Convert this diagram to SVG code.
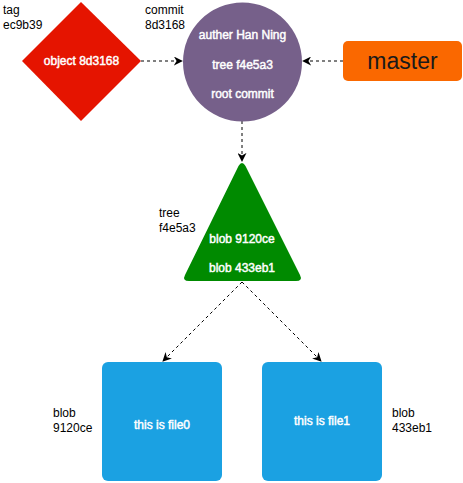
<svg xmlns="http://www.w3.org/2000/svg" width="463" height="483" viewBox="0 0 463 483">
<defs>
<marker id="ah" viewBox="0 0 10 10" refX="9" refY="5" markerWidth="9" markerHeight="9" markerUnits="userSpaceOnUse" orient="auto">
<path d="M0,0 L10,5 L0,10 L3,5 Z" fill="#000"/>
</marker>
<style>
.lbl{font-family:"Liberation Sans",Arial,sans-serif;font-size:12px;fill:#000}
.in{font-family:"Liberation Sans",Arial,sans-serif;font-size:12px;fill:#fff;stroke:#fff;stroke-width:0.45px;text-anchor:middle}
.edge{stroke:#000;stroke-width:1;stroke-dasharray:3 3;fill:none;marker-end:url(#ah)}
</style>
</defs>
<rect width="463" height="483" fill="#fff"/>
<g id="connectors">
<line class="edge" x1="141" y1="61" x2="182" y2="61"/>
<line class="edge" x1="343" y1="61" x2="303" y2="61"/>
<line class="edge" x1="242" y1="121" x2="242" y2="161"/>
<line class="edge" x1="242" y1="282" x2="163" y2="361"/>
<line class="edge" x1="242" y1="282" x2="321" y2="361"/>
</g>
<g id="tag">
<polygon points="81,2 141,61 81,121 22,61" fill="#e51400"/>
<text class="in" x="81.5" y="65">object 8d3168</text>
<text class="lbl" x="3" y="14">tag</text>
<text class="lbl" x="3" y="29">ec9b39</text>
</g>
<g id="commit">
<circle cx="242.5" cy="62" r="59.5" fill="#76608a"/>
<text class="in" x="242.5" y="39">auther Han Ning</text>
<text class="in" x="242.5" y="69">tree f4e5a3</text>
<text class="in" x="242.5" y="98">root commit</text>
<text class="lbl" x="145" y="14">commit</text>
<text class="lbl" x="145" y="29">8d3168</text>
</g>
<g id="master">
<rect x="343" y="41" width="119" height="40" rx="5" fill="#fa6800"/>
<text x="402.5" y="69" font-family="Liberation Sans,Arial,sans-serif" font-size="23" fill="#1a1a1a" text-anchor="middle">master</text>
</g>
<g id="tree">
<path d="M238.5,166 Q242,160 245.5,166 L300,275 Q303,281 296,281 L189,281 Q182,281 185,275 Z" fill="#008a00"/>
<text class="in" x="242" y="243">blob 9120ce</text>
<text class="in" x="242" y="272">blob 433eb1</text>
<text class="lbl" x="159" y="217">tree</text>
<text class="lbl" x="159" y="232">f4e5a3</text>
</g>
<g id="blob0">
<rect x="102" y="362" width="120" height="119" rx="6" fill="#1ba1e2"/>
<text class="in" x="162" y="429">this is file0</text>
<text class="lbl" x="53" y="417">blob</text>
<text class="lbl" x="53" y="432">9120ce</text>
</g>
<g id="blob1">
<rect x="262" y="362" width="120" height="119" rx="6" fill="#1ba1e2"/>
<text class="in" x="322" y="425">this is file1</text>
<text class="lbl" x="392" y="417">blob</text>
<text class="lbl" x="392" y="432">433eb1</text>
</g>
</svg>
